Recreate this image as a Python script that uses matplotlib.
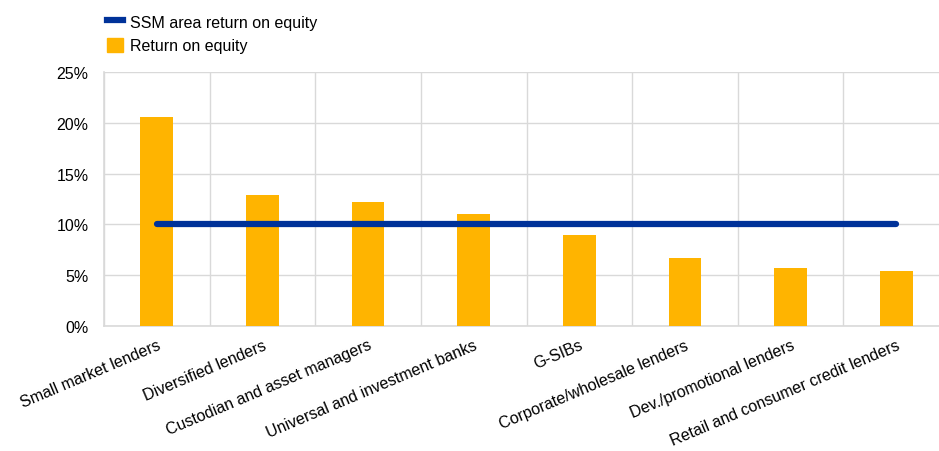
import numpy as np
import matplotlib
matplotlib.use("Agg")
import matplotlib.pyplot as plt
from matplotlib.lines import Line2D
from matplotlib.patches import Patch
from matplotlib.ticker import FuncFormatter

categories = ["Small market lenders", "Diversified lenders", "Custodian and asset managers",
              "Universal and investment banks", "G-SIBs", "Corporate/wholesale lenders",
              "Dev./promotional lenders", "Retail and consumer credit lenders"]
roe = [20.6, 12.9, 12.2, 11.0, 9.0, 6.7, 5.7, 5.4]
ssm_roe = [10.0, 10.0, 10.0, 10.0, 10.0, 10.0, 10.0, 10.0]

YELLOW, BLUE, GRID = "#FFB400", "#003299", "#D9D9D9"
plt.rcParams.update({"font.family": ["Liberation Sans", "DejaVu Sans"], "font.size": 11.5, "text.color": "#000000"})

fig = plt.figure(figsize=(9.39, 4.52), dpi=100)
ax = fig.add_axes([104/939, 1-327/452, 845/939, (327-73)/452])

x = np.arange(len(categories))
ax.bar(x, roe, width=0.31, color=YELLOW, zorder=3)
ax.plot(x, ssm_roe, color=BLUE, lw=4.5, solid_capstyle="round", zorder=4)

ax.set_xlim(-0.5, len(categories) - 0.5)
ax.set_ylim(0, 25)
ax.set_yticks(np.arange(0, 26, 5))
ax.yaxis.set_major_formatter(FuncFormatter(lambda v, p: f"{v:.0f}%"))
ax.set_xticks(x)
ax.set_xticklabels(categories, rotation=23, ha="right", va="top", rotation_mode="anchor", fontsize=11.5)
ax.set_xticks(np.arange(-0.5, len(categories), 1), minor=True)
ax.tick_params(axis="x", which="both", length=0, pad=8)
ax.tick_params(axis="y", length=0, pad=11)
ax.grid(axis="y", color=GRID, lw=1, zorder=0)
ax.grid(axis="x", which="minor", color=GRID, lw=1, zorder=0)
ax.set_axisbelow(True)
for s in ["top", "right"]:
    ax.spines[s].set_visible(False)
for s in ["left", "bottom"]:
    ax.spines[s].set_color(GRID)
    ax.spines[s].set_linewidth(1.2)

handles = [Line2D([0], [0], color=BLUE, lw=4.5), Patch(color=YELLOW)]
fig.legend(handles, ["SSM area return on equity", "Return on equity"], loc="upper left",
           bbox_to_anchor=(96/939, 1 - 4/452), frameon=False, handlelength=1.0, handleheight=1.0,
           handletextpad=0.45, labelspacing=0.5, borderaxespad=0.3)

fig.savefig("out.png", dpi=100)
